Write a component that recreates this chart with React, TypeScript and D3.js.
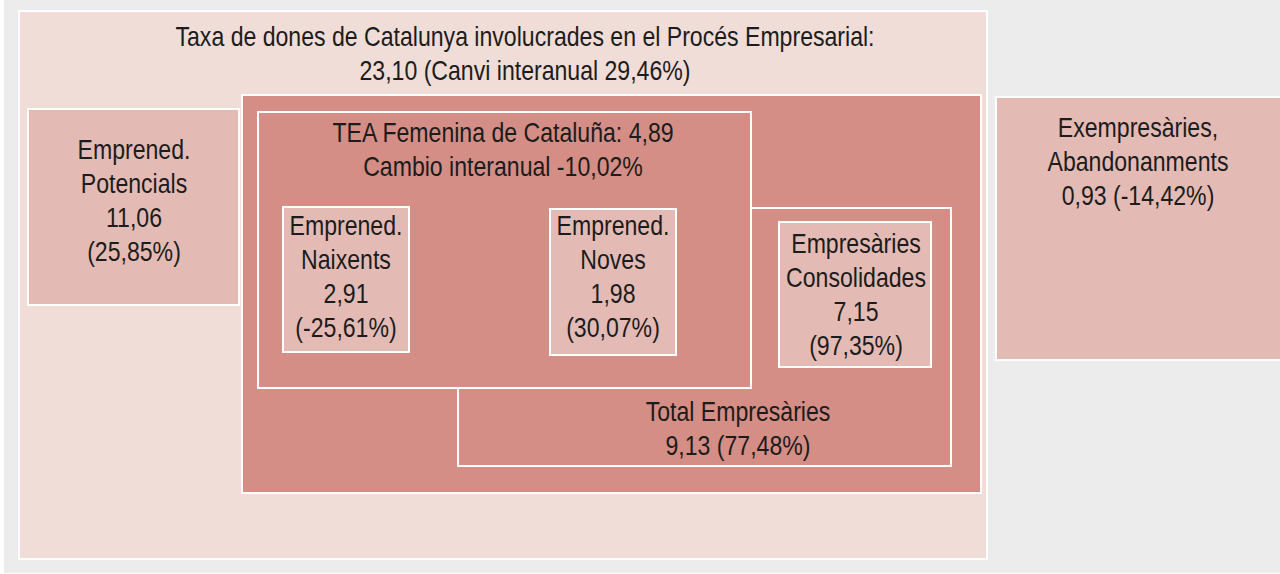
import React from "react";
import * as d3 from "d3";

// ---- Data ----
const categories = [
  "Procés Empresarial",
  "Emprened. Potencials",
  "TEA Femenina",
  "Emprened. Naixents",
  "Emprened. Noves",
  "Empresàries Consolidades",
  "Total Empresàries",
  "Exempresàries, Abandonanments",
];
const rates = [23.1, 11.06, 4.89, 2.91, 1.98, 7.15, 9.13, 0.93];
const yearChanges = [29.46, 25.85, -10.02, -25.61, 30.07, 97.35, 77.48, -14.42];

// ---- Layout (separate from data) ----
type Box = { x0: number; y0: number; x1: number; y1: number; fill: string | null; sw: number; tx: number; ty: number };
const C_BG = "#ebeceb";
const C_LIGHT = "#f0ddd8";
const C_MID = "#e4bbb4";
const C_DARK = "#d48e86";

const layout: Box[] = [
  { x0: 18, y0: 10, x1: 988, y1: 560, fill: C_LIGHT, sw: 2, tx: 525, ty: 46 },
  { x0: 27, y0: 108, x1: 240, y1: 306, fill: C_MID, sw: 2, tx: 134, ty: 159 },
  { x0: 257, y0: 111, x1: 752, y1: 389, fill: C_DARK, sw: 2, tx: 503, ty: 142 },
  { x0: 282, y0: 206, x1: 410, y1: 353, fill: C_MID, sw: 2, tx: 346, ty: 235 },
  { x0: 549, y0: 208, x1: 677, y1: 356, fill: C_MID, sw: 2, tx: 613, ty: 235 },
  { x0: 778, y0: 221, x1: 932, y1: 368, fill: C_MID, sw: 2, tx: 856, ty: 253 },
  { x0: 457, y0: 207, x1: 952, y1: 467, fill: null, sw: 2, tx: 738, ty: 421 },
  { x0: 995, y0: 96, x1: 1290, y1: 361, fill: C_MID, sw: 2, tx: 1138, ty: 137 },
];
const darkBox = { x0: 241, y0: 94, x1: 982, y1: 494 };
const LINE = 34;
const SX = 0.81;
const FS = 28.5;

const loc = d3.formatLocale({ decimal: ",", thousands: ".", grouping: [3], currency: ["", "€"], minus: "-" });
const f2 = loc.format(".2f");

function linesFor(i: number): string[] {
  const v = f2(rates[i]);
  const c = f2(yearChanges[i]) + "%";
  switch (i) {
    case 0:
      return ["Taxa de dones de Catalunya involucrades en el Procés Empresarial:", `${v} (Canvi interanual ${c})`];
    case 2:
      return [`TEA Femenina de Cataluña: ${v}`, `Cambio interanual ${c}`];
    case 6:
      return [categories[i], `${v} (${c})`];
    case 7:
      return ["Exempresàries,", "Abandonanments", `${v} (${c})`];
    default: {
      const parts = categories[i].split(" ");
      return [parts[0], parts.slice(1).join(" "), v, `(${c})`];
    }
  }
}

const rectOf = (b: { x0: number; y0: number; x1: number; y1: number }, sw: number) => ({
  x: b.x0 + sw / 2,
  y: b.y0 + sw / 2,
  width: b.x1 - b.x0 - sw,
  height: b.y1 - b.y0 - sw,
});

export default function App() {
  const order = [0, 1, -1, 6, 2, 3, 4, 5, 7];
  return (
    <svg
      width={1280}
      height={574}
      style={{ position: "absolute", left: 0, top: 0, display: "block" }}
      fontFamily="'Liberation Sans', Arial, sans-serif"
    >
      <rect x={0} y={0} width={1280} height={574} fill="#ffffff" />
      <rect x={4} y={0} width={1276} height={573} fill={C_BG} />
      {order.map((i) => {
        if (i === -1) {
          return <rect key="dark" {...rectOf(darkBox, 2)} fill={C_DARK} stroke="#fff" strokeWidth={2} />;
        }
        const b = layout[i];
        return (
          <rect
            key={"b" + i}
            {...rectOf(b, b.sw)}
            fill={b.fill ?? "none"}
            stroke="#fff"
            strokeWidth={b.sw}
          />
        );
      })}
      {layout.map((b, i) => (
        <g key={"t" + i} transform={`translate(${b.tx},0) scale(${SX},1)`}>
          <text x={0} y={b.ty} textAnchor="middle" fontSize={FS} fill="#1c1c1c">
            {linesFor(i).map((ln, j) => (
              <tspan key={j} x={0} y={b.ty + j * LINE}>
                {ln}
              </tspan>
            ))}
          </text>
        </g>
      ))}
    </svg>
  );
}
